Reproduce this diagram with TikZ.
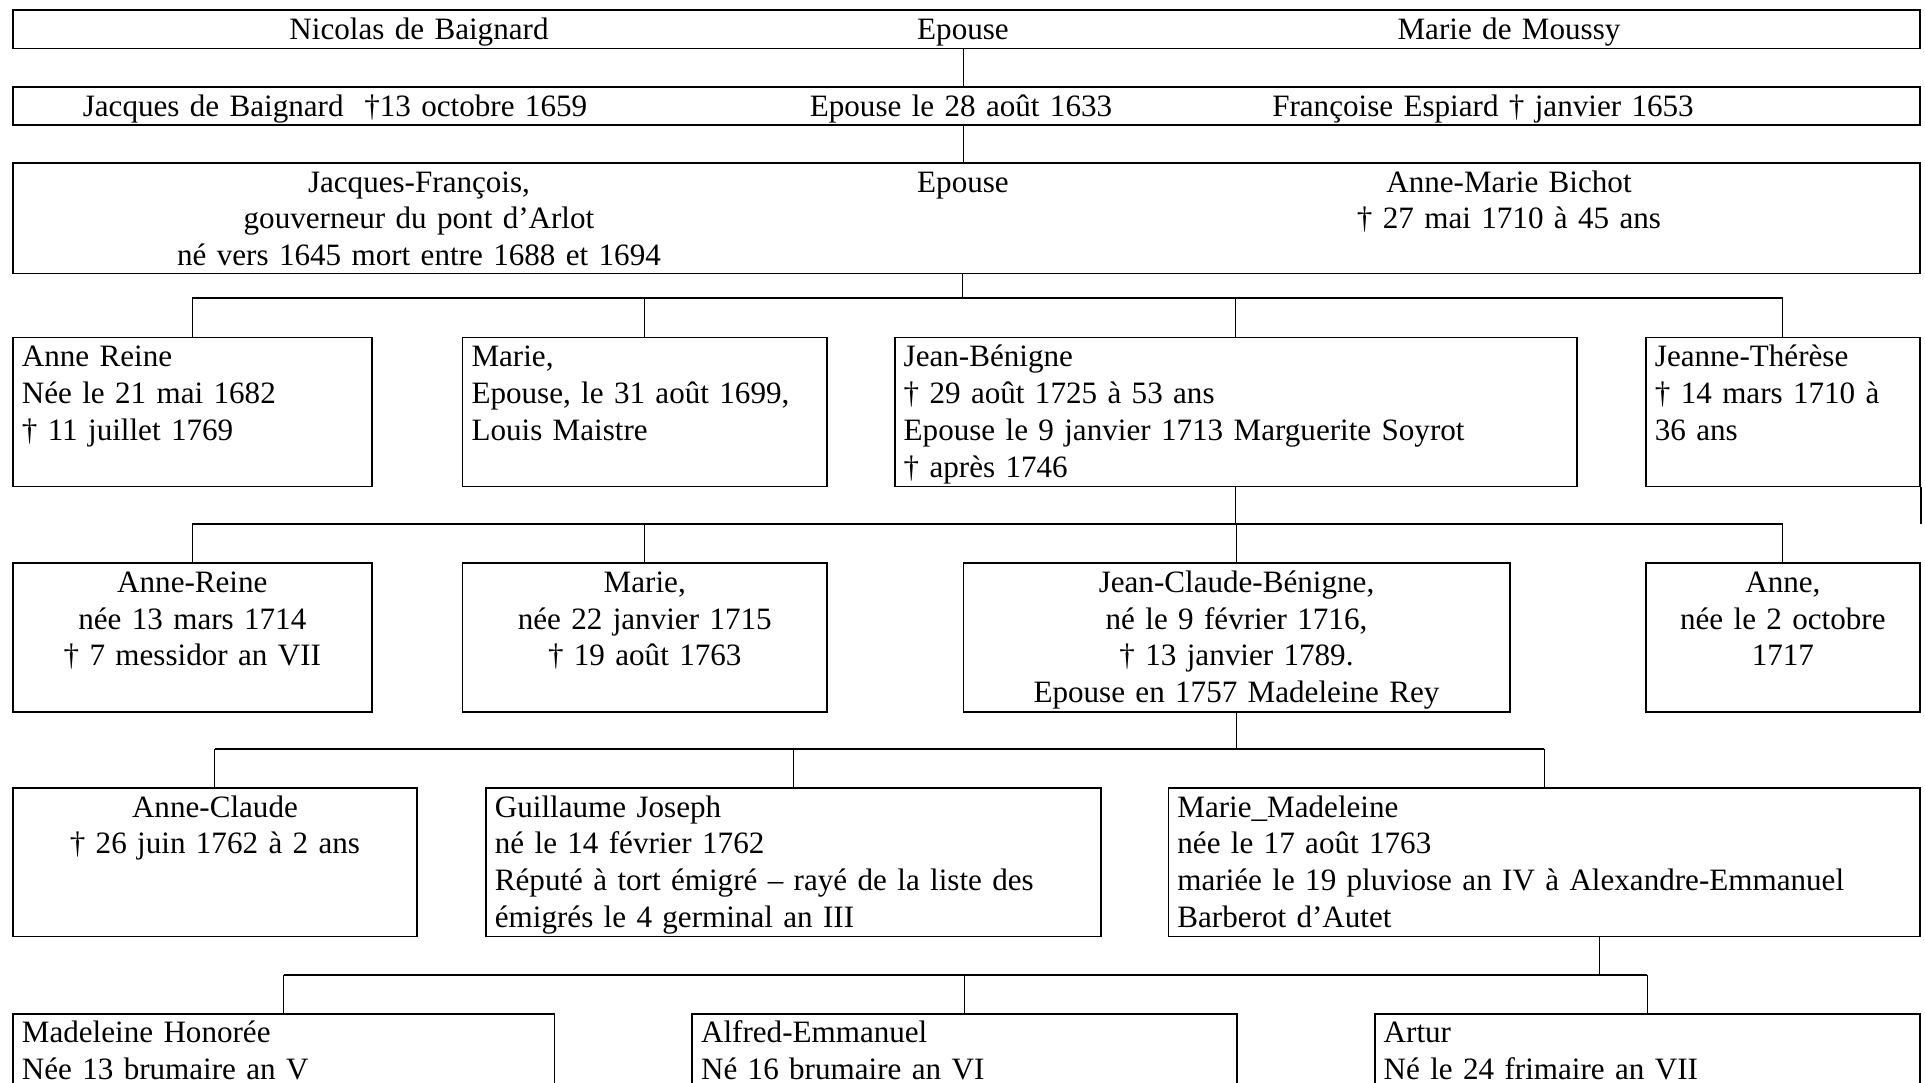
\documentclass[tikz,border=0pt]{standalone}
\usepackage{fontspec}
\setmainfont{Liberation Serif}
\usetikzlibrary{positioning,calc}

\begin{document}
\begin{tikzpicture}[
  x=1pt, y=-1pt,
  every node/.style={font=\fontsize{31.1}{36.8}\selectfont},
  cell/.style={draw, line width=1.7pt, inner sep=0pt, anchor=north west},
  ltext/.style={inner sep=0pt, text width=740pt, align=left, anchor=base west},
  ctext/.style={inner sep=0pt, text width=560pt, align=center, anchor=base},
  bar/.style={line width=1.7pt},
  drop/.style={line width=1pt}
]
\useasboundingbox (0,0) rectangle (1925,1082);
\fill[white] (0,0) rectangle (1925,1082);

% Generation 1
\node[cell, minimum width=1907pt, minimum height=38.7pt] (gen1) at (12,9) {};
\node[ctext] (nicolas) at (419,39) {Nicolas de Baignard};
\node[ctext] (ep1) at (963,39) {Epouse};
\node[ctext] (moussy) at (1509,39) {Marie de Moussy};

% Generation 2
\node[cell, minimum width=1907pt, minimum height=38pt] (gen2) at (12,86) {};
\node[ctext] (jacques) at (335,116) {Jacques de Baignard\ \ †13 octobre 1659};
\node[ctext] (ep2) at (961,116) {Epouse le 28 août 1633};
\node[ctext] (espiard) at (1483,116) {Françoise Espiard † janvier 1653};

% Generation 3
\node[cell, minimum width=1907pt, minimum height=110.5pt] (gen3) at (12,162) {};
\node[ctext] (jf) at (419,192) {Jacques-François,\\gouverneur du pont d’Arlot\\né vers 1645 mort entre 1688 et 1694};
\node[ctext] (ep3) at (963,192) {Epouse};
\node[ctext] (bichot) at (1509,192) {Anne-Marie Bichot\\† 27 mai 1710 à 45 ans};

\draw[drop] (gen1.south -| ep1) -- (gen2.north -| ep1);
\draw[drop] (gen2.south -| ep1) -- (gen3.north -| ep1);

% Generation 4
\node[cell, minimum width=359pt, minimum height=149pt] (annereine) at (12,336.7) {};
\node[ltext] (annereinet) at ([shift={(9.7,30)}]annereine.north west) {Anne Reine\\Née le 21 mai 1682\\† 11 juillet 1769};
\node[cell, minimum width=364.6pt, minimum height=149pt] (marie) at (461.6,336.7) {};
\node[ltext] (mariet) at ([shift={(9.7,30)}]marie.north west) {Marie,\\Epouse, le 31 août 1699,\\Louis Maistre};
\node[cell, minimum width=682.6pt, minimum height=149pt] (jeanbenigne) at (893.8,336.7) {};
\node[ltext] (jeanbenignet) at ([shift={(9.7,30)}]jeanbenigne.north west) {Jean-Bénigne\\† 29 août 1725 à 53 ans\\Epouse le 9 janvier 1713 Marguerite Soyrot\\† après 1746};
\node[cell, minimum width=274pt, minimum height=149pt] (jeannetherese) at (1645,336.7) {};
\node[ltext] (jeannethereset) at ([shift={(9.7,30)}]jeannetherese.north west) {Jeanne-Thérèse\\† 14 mars 1710 à\\36 ans};

\coordinate (bar3) at (962.5,298.3);
\draw[drop] (gen3.south -| bar3) -- (bar3);
\draw[bar] (bar3 -| annereine) -- (bar3 -| jeannetherese);
\foreach \c in {annereine,marie,jeanbenigne,jeannetherese}
  \draw[drop] (bar3 -| \c) -- (\c.north);

% Generation 5
\node[cell, minimum width=359pt, minimum height=148.5pt] (annereineb) at (12,562.3) {};
\node[ctext] (annereinebt) at ([shift={(0,30)}]annereineb.north) {Anne-Reine\\née 13 mars 1714\\† 7 messidor an VII};
\node[cell, minimum width=364.6pt, minimum height=148.5pt] (marieb) at (461.6,562.3) {};
\node[ctext] (mariebt) at ([shift={(0,30)}]marieb.north) {Marie,\\née 22 janvier 1715\\† 19 août 1763};
\node[cell, minimum width=546.3pt, minimum height=148.5pt] (jeanclaude) at (962.5,562.3) {};
\node[ctext] (jeanclaudet) at ([shift={(0,30)}]jeanclaude.north) {Jean-Claude-Bénigne,\\né le 9 février 1716,\\† 13 janvier 1789.\\Epouse en 1757 Madeleine Rey};
\node[cell, minimum width=274pt, minimum height=148.5pt] (anne) at (1645,562.3) {};
\node[ctext] (annet) at ([shift={(0,30)}]anne.north) {Anne,\\née le 2 octobre\\1717};

\coordinate (bar4) at (1235,524.2);
\draw[drop] (jeanbenigne.south) -- (jeanbenigne.south |- bar4);
\draw[bar] (bar4 -| annereineb) -- (bar4 -| anne);
\draw[line width=1.7pt] (jeannetherese.south east) -- (jeannetherese.south east |- bar4);
\foreach \c in {annereineb,marieb,jeanclaude,anne}
  \draw[drop] (bar4 -| \c) -- (\c.north);

% Generation 6
\node[cell, minimum width=404.2pt, minimum height=148.5pt] (anneclaude) at (12,787) {};
\node[ctext] (anneclaudet) at ([shift={(0,30)}]anneclaude.north) {Anne-Claude\\† 26 juin 1762 à 2 ans};
\node[cell, minimum width=615pt, minimum height=148.5pt] (guillaume) at (485,787) {};
\node[ltext] (guillaumet) at ([shift={(9.7,30)}]guillaume.north west) {Guillaume Joseph\\né le 14 février 1762\\Réputé à tort émigré – rayé de la liste des\\émigrés le 4 germinal an III};
\node[cell, minimum width=751.5pt, minimum height=148.5pt] (mariemadeleine) at (1167.5,787) {};
\node[ltext] (mariemadeleinet) at ([shift={(9.7,30)}]mariemadeleine.north west) {Marie\_Madeleine\\née le 17 août 1763\\mariée le 19 pluviose an IV à Alexandre-Emmanuel\\Barberot d’Autet};

\coordinate (bar5) at (1235,748.9);
\draw[drop] (jeanclaude.south) -- (jeanclaude.south |- bar5);
\draw[bar] (bar5 -| anneclaude) -- (bar5 -| mariemadeleine);
\foreach \c in {anneclaude,guillaume,mariemadeleine}
  \draw[drop] (bar5 -| \c) -- (\c.north);

% Generation 7
\node[cell, minimum width=541.7pt, minimum height=120pt] (madeleine) at (12,1012.9) {};
\node[ltext] (madeleinet) at ([shift={(9.7,30)}]madeleine.north west) {Madeleine Honorée\\Née 13 brumaire an V};
\node[cell, minimum width=545.1pt, minimum height=120pt] (alfred) at (691.2,1012.9) {};
\node[ltext] (alfredt) at ([shift={(9.7,30)}]alfred.north west) {Alfred-Emmanuel\\Né 16 brumaire an VI};
\node[cell, minimum width=545.2pt, minimum height=120pt] (artur) at (1373.8,1012.9) {};
\node[ltext] (arturt) at ([shift={(9.7,30)}]artur.north west) {Artur\\Né le 24 frimaire an VII};

\coordinate (bar6) at (1599.7,974.8);
\draw[drop] (mariemadeleine.south -| bar6) -- (bar6);
\draw[bar] (bar6 -| madeleine) -- (bar6 -| artur);
\foreach \c in {madeleine,alfred,artur}
  \draw[drop] (bar6 -| \c) -- (\c.north);

\end{tikzpicture}
\end{document}
